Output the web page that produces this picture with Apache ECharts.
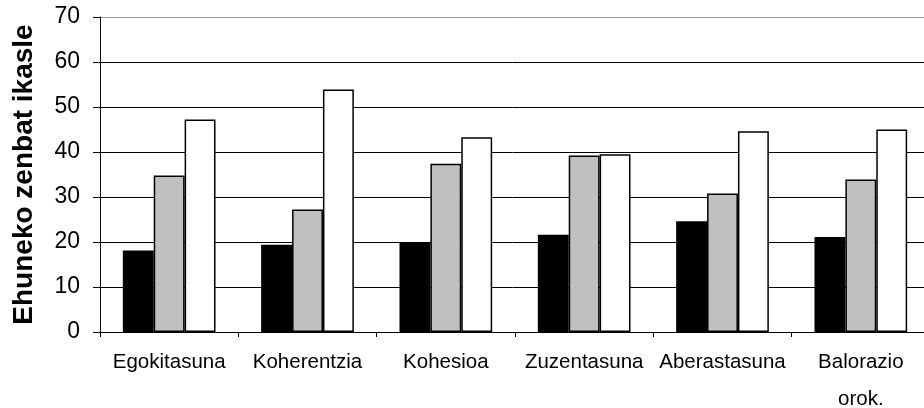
<!DOCTYPE html>
<html>
<head>
<meta charset="utf-8">
<script src="https://cdn.jsdelivr.net/npm/echarts@6/dist/echarts.min.js"></script>
<style>
html, body { margin: 0; padding: 0; background: #fff; }
#main { width: 924px; height: 408px; }
</style>
</head>
<body>
<div id="main"></div>
<script>
// kategoriak eta datuak
var categories = ['Egokitasuna', 'Koherentzia', 'Kohesioa', 'Zuzentasuna', 'Aberastasuna', 'Balorazio\norok.'];
var serie1 = [18.1, 19.4, 19.8, 21.6, 24.6, 21.1];
var serie2 = [34.8, 27.2, 37.4, 39.2, 30.8, 33.9];
var serie3 = [47.2, 53.9, 43.3, 39.5, 44.6, 45.0];
var yTicks = [0, 10, 20, 30, 40, 50, 60, 70];

var fontName = '"Liberation Sans", Arial, sans-serif';

var chart = echarts.init(document.getElementById('main'));

function barSerie(data, color) {
    return {
        type: 'bar',
        data: data,
        barGap: 0,
        barCategoryGap: '33%',
        itemStyle: {
            color: color,
            borderColor: '#000',
            borderWidth: 1.5
        },
        silent: true
    };
}

var option = {
    animation: false,
    grid: {
        left: 100,
        right: -6,
        top: 17,
        bottom: 76,
        outerBoundsMode: 'none'
    },
    xAxis: {
        type: 'category',
        data: categories,
        axisLine: { lineStyle: { color: '#000', width: 1 } },
        axisTick: { show: true, length: 5, lineStyle: { color: '#000' } },
        axisLabel: {
            color: '#000',
            fontFamily: fontName,
            fontSize: 20.5,
            lineHeight: 37,
            margin: 12,
            interval: 0
        }
    },
    yAxis: {
        type: 'value',
        min: yTicks[0],
        max: yTicks[yTicks.length - 1],
        interval: 10,
        name: 'Ehuneko zenbat ikasle',
        nameLocation: 'middle',
        nameGap: 62,
        nameTextStyle: {
            color: '#000',
            fontFamily: fontName,
            fontWeight: 'bold',
            fontSize: 28
        },
        axisLine: { show: true, lineStyle: { color: '#000', width: 1 } },
        axisTick: { show: true, length: 7, lineStyle: { color: '#000' } },
        axisLabel: {
            color: '#000',
            fontFamily: fontName,
            fontSize: 23,
            margin: 20
        },
        splitLine: {
            show: true,
            lineStyle: {
                color: ['#000', '#000', '#000', '#000', '#000', '#000', '#000', '#999'],
                width: 1
            }
        }
    },
    series: [
        barSerie(serie1, '#000000'),
        barSerie(serie2, '#c0c0c0'),
        barSerie(serie3, '#ffffff')
    ]
};

chart.setOption(option);
</script>
</body>
</html>
